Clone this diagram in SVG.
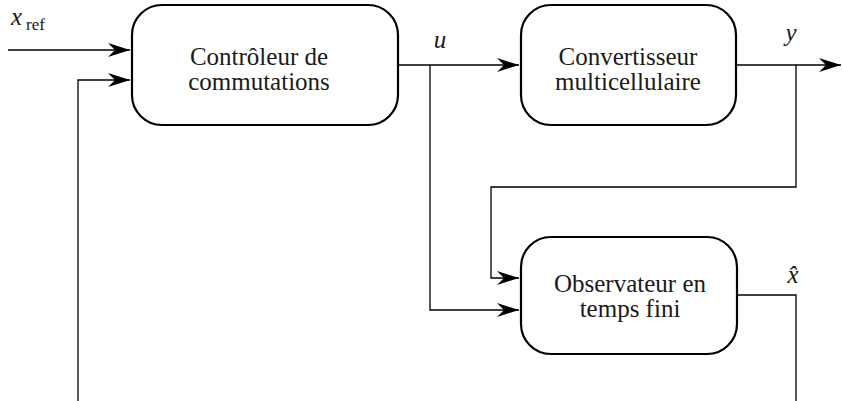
<svg xmlns="http://www.w3.org/2000/svg" width="842" height="401" viewBox="0 0 842 401">
<style>
.box{fill:#fff;stroke:#000;stroke-width:2.2}
.lbl{font-family:'Liberation Serif','Times New Roman','DejaVu Serif',serif;font-size:25px;fill:#1a1a1a;text-anchor:middle}
.math{font-family:'Liberation Serif','Times New Roman','DejaVu Serif',serif;font-style:italic;fill:#1a1a1a}
.sub{font-family:'Liberation Serif','Times New Roman','DejaVu Serif',serif;fill:#1a1a1a}
.wire{fill:none;stroke:#000;stroke-width:1.3}
</style>
<defs>
<marker id="arr" markerUnits="userSpaceOnUse" markerWidth="26" markerHeight="18" viewBox="-23 -9 26 18" refX="0" refY="0" orient="auto">
<path d="M0,0 L-22,-7 L-15,0 L-22,7 Z" fill="#000"/>
</marker>
</defs>
<g id="connectors">
<path class="wire" d="M8,50 H130" marker-end="url(#arr)"/>
<path class="wire" d="M737,295 H796 V401.6 H78 V80 H130" marker-end="url(#arr)"/>
<path class="wire" d="M398,65 H519" marker-end="url(#arr)"/>
<path class="wire" d="M430,65 V310 H519" marker-end="url(#arr)"/>
<path class="wire" d="M736,65 H841" marker-end="url(#arr)"/>
<path class="wire" d="M796,65 V187 H491 V278 H519" marker-end="url(#arr)"/>
</g>
<g id="labels">
<text class="math" x="11" y="25" font-size="25">x</text>
<text class="sub" x="26" y="30" font-size="17">ref</text>
<text class="math" x="440" y="48" font-size="25" text-anchor="middle">u</text>
<text class="math" x="791" y="41" font-size="25" text-anchor="middle">y</text>
<text class="math" x="793" y="283" font-size="25" text-anchor="middle">x̂</text>
</g>
<g id="controleur">
<rect class="box" x="132" y="5" width="266" height="120" rx="30" ry="30"/>
<text class="lbl" x="259" y="64.5">Contrôleur de</text>
<text class="lbl" x="259" y="90">commutations</text>
</g>
<g id="convertisseur">
<rect class="box" x="521" y="5" width="215" height="120" rx="30" ry="30"/>
<text class="lbl" x="628" y="64.5">Convertisseur</text>
<text class="lbl" x="628" y="90">multicellulaire</text>
</g>
<g id="observateur">
<rect class="box" x="521" y="237" width="216" height="117" rx="30" ry="30"/>
<text class="lbl" x="630" y="291.5">Observateur en</text>
<text class="lbl" x="630" y="317">temps fini</text>
</g>
</svg>
